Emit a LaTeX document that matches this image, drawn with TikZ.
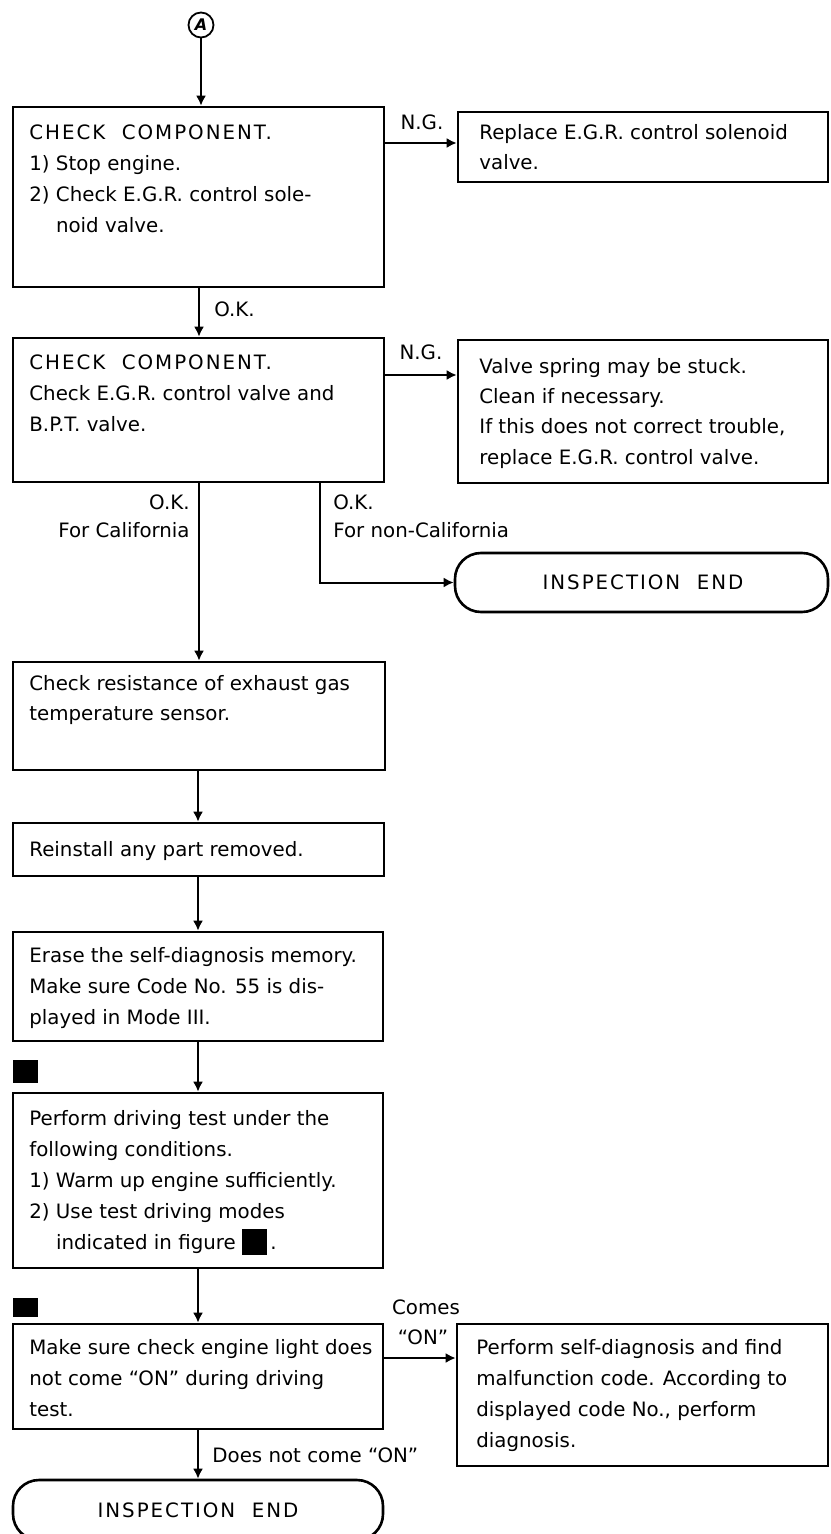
\documentclass[tikz,border=0pt]{standalone}
\usepackage{fontspec}
\setmainfont{DejaVu Sans}
\newfontfamily\capsfont[LetterSpace=10]{DejaVu Sans}
\usetikzlibrary{arrows.meta,fit}

\begin{document}
\begin{tikzpicture}[x=0.5pt,y=-0.5pt,
  every node/.style={font=\fontsize{9.9pt}{15.5pt}\selectfont},
  box/.style={draw, line width=1.3pt, rectangle, inner sep=0pt},
  term/.style={draw, line width=1.3pt, rectangle, rounded corners=13pt, inner sep=0pt},
  marker/.style={fill=black, rectangle, inner sep=0pt},
  % multi-line texts are placed by the baseline of their last line
  txt/.style={align=left, anchor=base west, inner sep=0pt},
  lbl/.style={inner sep=0pt},
  arr/.style={line width=1pt, -{Latex[length=5pt,width=5pt]}}]

% page
\fill[white] (0,0) rectangle (830,1534);
\useasboundingbox (0,0) rectangle (830,1534);

% entry connector
\node[draw, circle, line width=0.9pt, minimum size=12.5pt, inner sep=0pt,
      font=\fontsize{8pt}{8pt}\selectfont\bfseries\itshape] (circA) at (201,25) {A};

% first component check
\node[box, fit={(13,107) (384,287)}] (b1) {};
\node[txt] (b1t) at (29,233) {{\capsfont CHECK\ \ COMPONENT.}\\1) Stop engine.\\2) Check E.G.R. control sole-\\\phantom{2) }noid valve.};
\node[box, fit={(458,112) (828,182)}] (r1) {};
\node[txt, font=\fontsize{9.9pt}{15pt}\selectfont] (r1t) at (479,170) {Replace E.G.R. control solenoid\\valve.};

% second component check
\node[box, fit={(13,338) (384,482)}] (b2) {};
\node[txt] (b2t) at (29,431) {{\capsfont CHECK\ \ COMPONENT.}\\Check E.G.R. control valve and\\B.P.T. valve.};
\node[box, fit={(458,340) (828,483)}] (r2) {};
\node[txt, font=\fontsize{9.9pt}{15pt}\selectfont] (r2t) at (479,464) {Valve spring may be stuck.\\Clean if necessary.\\If this does not correct trouble,\\replace E.G.R. control valve.};

\node[term, fit={(455,553) (828,612)}] (end1) {};
\node[lbl, font=\fontsize{9.9pt}{15.5pt}\selectfont\capsfont] (end1t) at (643,582) {INSPECTION\ \ END};

% California branch
\node[box, fit={(13,662) (385,770)}] (b3) {};
\node[txt, font=\fontsize{9.9pt}{15pt}\selectfont] (b3t) at (29,720) {Check resistance of exhaust gas\\temperature sensor.};
\node[box, fit={(13,823) (384,876)}] (b4) {};
\node[txt] (b4t) at (29,856) {Reinstall any part removed.};
\node[box, fit={(13,932) (383,1041)}] (b5) {};
\node[txt] (b5t) at (29,1024) {Erase the self-diagnosis memory.\\Make sure Code No. 55 is dis-\\played in Mode III.};

\node[marker, fit={(13,1060) (38,1083)}] (m1) {};
\node[box, fit={(13,1093) (383,1268)}] (b6) {};
\node[txt] (b6t) at (29,1249) {Perform driving test under the\\following conditions.\\1) Warm up engine sufficiently.\\2) Use test driving modes\\\phantom{2) }indicated in figure \raisebox{-3pt}{\rule{12.5pt}{13pt}}\,.};

\node[marker, fit={(13,1298) (38,1317)}] (m2) {};
\node[box, fit={(13,1324) (383,1429)}] (b7) {};
\node[txt] (b7t) at (29,1416) {Make sure check engine light does\\not come “ON” during driving\\test.};
\node[box, fit={(457,1324) (828,1466)}] (r7) {};
\node[txt] (r7t) at (476,1447) {Perform self-diagnosis and find\\malfunction code. According to\\displayed code No., perform\\diagnosis.};

\node[term, fit={(13,1480) (383,1540)}] (end2) {};
\node[lbl, font=\fontsize{9.9pt}{15.5pt}\selectfont\capsfont] (end2t) at (198,1510) {INSPECTION\ \ END};

% connectors
\draw[arr] (circA) -- (circA |- b1.north);
\draw[arr] (b1.east |- 0,143) -- (r1.west |- 0,143);
\node[lbl, anchor=base] (ng1) at (422,130) {N.G.};
\draw[arr] (b1.south -| 199,0) -- (b2.north -| 199,0);
\node[lbl, anchor=base west] (ok1) at (214,317) {O.K.};

\draw[arr] (b2.east |- 0,375) -- (r2.west |- 0,375);
\node[lbl, anchor=base] (ng2) at (421,360) {N.G.};

\draw[arr] (b2.south -| 199,0) -- (b3.north -| 199,0);
\node[lbl, anchor=base east] (ok2) at (190,509) {O.K.};
\node[lbl, anchor=base east] (cal) at (190,537) {For California};

\draw[arr] (b2.south -| 320,0) |- (end1.west);
\node[lbl, anchor=base west] (ok3) at (333,509) {O.K.};
\node[lbl, anchor=base west] (ncal) at (333,537) {For non-California};

\draw[arr] (b3.south -| 198,0) -- (b4.north -| 198,0);
\draw[arr] (b4.south -| 198,0) -- (b5.north -| 198,0);
\draw[arr] (b5.south -| 198,0) -- (b6.north -| 198,0);
\draw[arr] (b6.south -| 198,0) -- (b7.north -| 198,0);

\draw[arr] (b7.east |- 0,1358) -- (r7.west |- 0,1358);
\node[lbl, anchor=base] (comes) at (426,1314) {Comes};
\node[lbl, anchor=base] (on) at (423,1344) {“ON”};

\draw[arr] (b7.south -| 198,0) -- (end2.north -| 198,0);
\node[lbl, anchor=base west] (dnc) at (212,1462) {Does not come “ON”};
\end{tikzpicture}
\end{document}
